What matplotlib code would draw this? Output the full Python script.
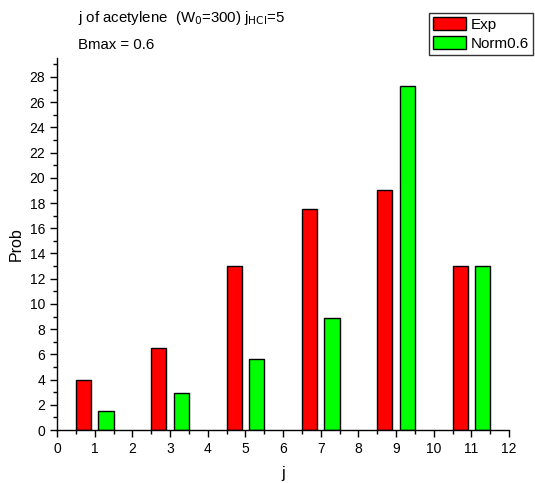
import matplotlib
matplotlib.use("Agg")
import matplotlib.pyplot as plt
from matplotlib.ticker import MultipleLocator
from matplotlib.patches import Patch

plt.rcParams['font.family'] = ['Liberation Sans', 'DejaVu Sans']

j_values = [1, 3, 5, 7, 9, 11]
exp_values = [4.0, 6.5, 13.0, 17.5, 19.0, 13.0]
norm_values = [1.5, 2.95, 5.6, 8.9, 27.3, 13.0]
series_names = ["Exp", "Norm0.6"]
series_colors = ["#ff0000", "#00ff00"]

W, H = 535, 483
fig = plt.figure(figsize=(W / 100, H / 100), dpi=100)
ax = fig.add_axes([57 / W, (H - 430) / H, (509 - 57) / W, (430 - 58) / H])

off = 0.3
width = 0.4
ax.bar([j - off for j in j_values], exp_values, width=width, color=series_colors[0],
       edgecolor="black", linewidth=1.0)
ax.bar([j + off for j in j_values], norm_values, width=width, color=series_colors[1],
       edgecolor="black", linewidth=1.0)

ax.set_xlim(0, 12)
ax.set_ylim(0, 29.5)
ax.xaxis.set_major_locator(MultipleLocator(1))
ax.xaxis.set_minor_locator(MultipleLocator(0.5))
ax.yaxis.set_major_locator(MultipleLocator(2))
ax.yaxis.set_minor_locator(MultipleLocator(1))
for s in ["top", "right"]:
    ax.spines[s].set_visible(False)
for s in ["left", "bottom"]:
    ax.spines[s].set_linewidth(1.0)
ax.tick_params(which="major", direction="out", length=5, width=1, labelsize=10)
ax.tick_params(which="minor", direction="out", length=3, width=1)
ax.set_xlabel("j", fontsize=11.5, labelpad=7)
ax.set_ylabel("Prob", fontsize=11.5, labelpad=4)

fig.text(78 / W, 1 - 18 / H, r"j of acetylene  (W$_0$=300) j$_{\mathrm{HCl}}$=5",
         fontsize=10.8, va="center", ha="left")
fig.text(78 / W, 1 - 45 / H, "Bmax = 0.6", fontsize=10.8, va="center", ha="left")

handles = [Patch(facecolor=c, edgecolor="black", label=n) for c, n in zip(series_colors, series_names)]
leg = fig.legend(handles=handles, loc="upper right", bbox_to_anchor=(533 / W, 1 - 13 / H),
                 fontsize=11, frameon=True, fancybox=False, edgecolor="black",
                 borderpad=0.25, handlelength=2.2, handleheight=0.95, handletextpad=0.3,
                 labelspacing=0.3, borderaxespad=0)
leg.get_frame().set_linewidth(1.0)

fig.savefig("out.png", dpi=100)
